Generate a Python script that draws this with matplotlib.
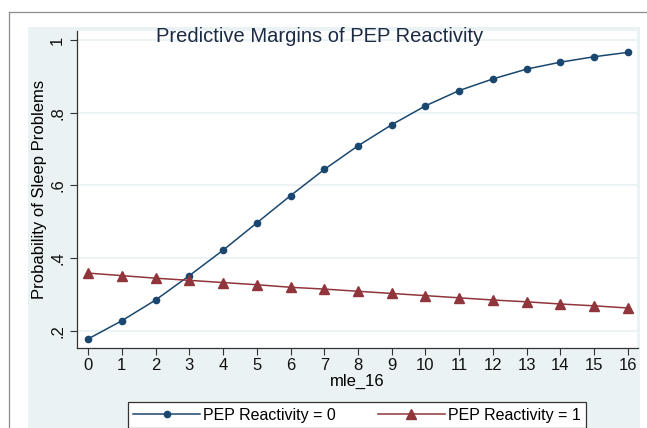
import matplotlib
matplotlib.use("Agg")
import matplotlib.pyplot as plt
from matplotlib.patches import Rectangle
from matplotlib.lines import Line2D

# predictive margins
mle_16 = list(range(17))
pep0 = [0.178, 0.228, 0.285, 0.352, 0.422, 0.497, 0.572, 0.644, 0.709,
        0.767, 0.819, 0.861, 0.893, 0.920, 0.939, 0.954, 0.966]
pep1 = [0.359, 0.352, 0.345, 0.339, 0.333, 0.327, 0.320, 0.315, 0.309,
        0.303, 0.297, 0.291, 0.285, 0.280, 0.274, 0.269, 0.263]
y_ticks = [0.2, 0.4, 0.6, 0.8, 1.0]
y_tick_labels = [".2", ".4", ".6", ".8", "1"]
series_labels = ["PEP Reactivity = 0", "PEP Reactivity = 1"]

NAVY = "#1a476f"
MAROON = "#90353b"
PANEL = "#eaf2f3"
W, H = 647, 428

plt.rcParams["font.family"] = ["Liberation Sans", "DejaVu Sans"]

fig = plt.figure(figsize=(W / 100, H / 100), dpi=100)
fig.patch.set_facecolor("white")

# outer frame (cut off) and the light blue graph region
fig.add_artist(Line2D([9 / W, 1], [1 - 12 / H, 1 - 12 / H], color="#8c8c8c", lw=0.9))
fig.add_artist(Line2D([9 / W, 9 / W], [0, 1 - 12 / H], color="#8c8c8c", lw=0.9))
fig.add_artist(Rectangle((28 / W, 0), (640 - 28) / W, 1 - 27 / H,
                         transform=fig.transFigure, facecolor=PANEL,
                         edgecolor="none", zorder=0))

ax = fig.add_axes([77 / W, 1 - 348 / H, (638 - 77) / W, (348 - 30) / H])
ax.set_facecolor("white")
ax.set_zorder(1)

ax.plot(mle_16, pep0, color=NAVY, lw=1.1, marker="o", markersize=4.5,
        label=series_labels[0], zorder=3)
ax.plot(mle_16, pep1, color=MAROON, lw=1.1, marker="^", markersize=6.5,
        label=series_labels[1], zorder=3)

ax.set_xlim(-0.33, 16.3)
ax.set_ylim(0.153, 1.0275)
ax.set_xticks(mle_16)
ax.set_yticks(y_ticks)
ax.set_yticklabels(y_tick_labels, rotation=90, va="center")
ax.tick_params(axis="both", labelsize=12, length=5, width=0.8,
               color="#333333", labelcolor="#111111")
ax.tick_params(axis="x", pad=2)
ax.grid(axis="y", color=PANEL, lw=1.3)
ax.set_axisbelow(True)
for side in ("top", "right"):
    ax.spines[side].set_color(PANEL)
    ax.spines[side].set_linewidth(1.3)
for side in ("left", "bottom"):
    ax.spines[side].set_color("#333333")
    ax.spines[side].set_linewidth(0.9)

ax.set_xlabel("mle_16", fontsize=12, labelpad=1)
ax.set_ylabel("Probability of Sleep Problems", fontsize=12, labelpad=2)

fig.text(320 / W, 1 - 37 / H, "Predictive Margins of PEP Reactivity",
         ha="center", va="center", fontsize=14.5, color="#1c2a44", zorder=5)

leg = fig.legend(loc="upper center", bbox_to_anchor=(357 / W, 1 - 402 / H),
                 ncol=2, fontsize=11.5, handlelength=4.2, numpoints=1,
                 columnspacing=2.6, handletextpad=0.2, fancybox=False,
                 framealpha=1, edgecolor="#333333", borderpad=0.35,
                 borderaxespad=0)
leg.get_frame().set_linewidth(0.9)

fig.savefig("out.png", dpi=100)
